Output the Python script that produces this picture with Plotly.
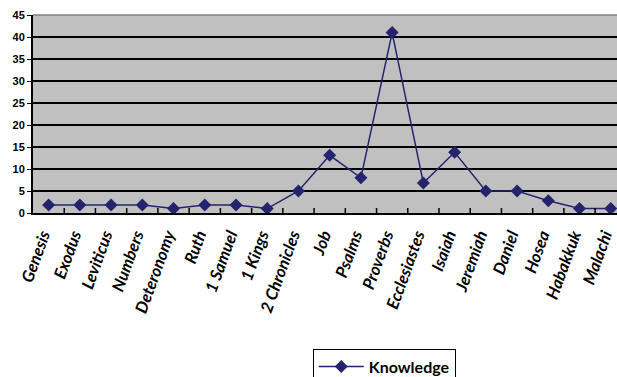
import plotly.graph_objects as go

books = ["Genesis", "Exodus", "Leviticus", "Numbers", "Deteronomy", "Ruth",
         "1 Samuel", "1 Kings", "2 Chronicles", "Job", "Psalms", "Proverbs",
         "Ecclesiastes", "Isaiah", "Jeremiah", "Daniel", "Hosea", "Habakkuk",
         "Malachi"]
knowledge = [1.8, 1.8, 1.8, 1.8, 1.0, 1.8, 1.8, 1.0, 5.0, 13.1, 8.0, 41.0,
             6.8, 13.8, 5.0, 5.0, 2.8, 1.0, 1.0]
y_ticks = [0, 5, 10, 15, 20, 25, 30, 35, 40, 45]

navy = "#24246E"

fig = go.Figure()
fig.add_trace(go.Scatter(
    x=list(range(len(books))), y=knowledge, mode="lines+markers",
    name="Knowledge",
    line=dict(color=navy, width=1.5),
    marker=dict(symbol="diamond", size=10, color=navy),
))

fig.update_layout(
    width=617, height=377,
    margin=dict(l=33, r=0, t=15, b=164, autoexpand=False),
    paper_bgcolor="white",
    plot_bgcolor="#C0C0C0",
    font=dict(family="Liberation Sans, Arial, sans-serif", color="black"),
    showlegend=True,
    legend=dict(
        x=0.479, y=-0.685, xanchor="left", yanchor="top",
        bordercolor="black", borderwidth=1, bgcolor="white",
        itemwidth=45,
        font=dict(size=16, family="Lato, sans-serif", weight="bold"),
    ),
    xaxis=dict(
        tickmode="array", tickvals=list(range(len(books))), ticktext=books,
        range=[-0.5, 18.2],
        tickangle=-70,
        tickfont=dict(size=16.5, family="Lato, sans-serif",
                      weight="bold", style="italic"),
        ticklabeloverflow="allow",
        ticklabelstandoff=4,
        ticklabelshift=-6,
        automargin=False,
        showgrid=False, zeroline=False,
        showline=True, linecolor="black", linewidth=2,
        ticks="", fixedrange=True,
    ),
    yaxis=dict(
        range=[0, 45], tickvals=y_ticks,
        tickfont=dict(size=11, weight="bold"),
        automargin=False,
        showgrid=True, gridcolor="black", gridwidth=1.5,
        zeroline=False,
        showline=True, linecolor="black", linewidth=2,
        ticks="outside", ticklen=4, tickcolor="black",
    ),
)

# category divider ticks pointing up from the baseline
for i in range(len(books)):
    fig.add_shape(type="line", xref="x", yref="paper",
                  x0=i + 0.5, x1=i + 0.5, y0=0, y1=0.025,
                  line=dict(color="black", width=1.5))

# thin grey frame line along the top of the plot area
fig.add_shape(type="line", xref="paper", yref="paper", x0=0, x1=1, y0=1, y1=1,
              line=dict(color="#808080", width=1.5))

fig.write_html("out.html")
